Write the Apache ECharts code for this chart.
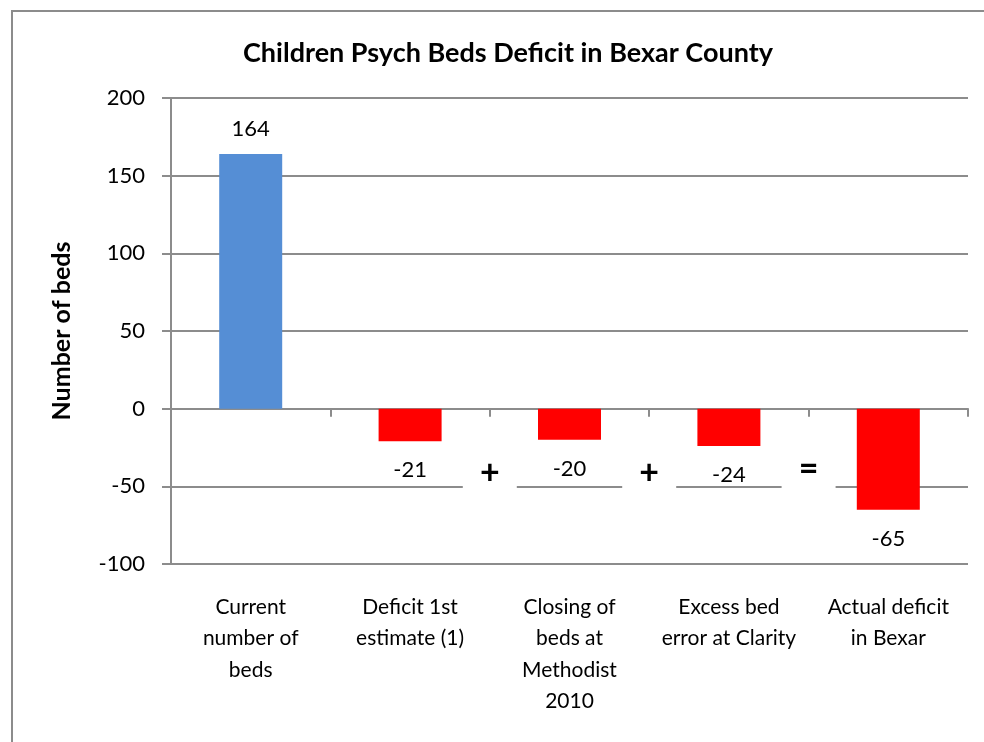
<!DOCTYPE html>
<html>
<head>
<meta charset="utf-8">
<script src="https://cdn.jsdelivr.net/npm/echarts@6/dist/echarts.min.js"></script>
<style>
  html, body { margin: 0; padding: 0; background: #ffffff; }
  #frame { position: absolute; left: 11px; top: 10px; width: 990px; height: 740px; border-left: 2px solid #8c8c8c; border-top: 2px solid #8c8c8c; box-sizing: border-box; }
  #chart { position: absolute; left: 0; top: 0; width: 984px; height: 742px; }
</style>
</head>
<body>
<div id="frame"></div>
<div id="chart"></div>
<script>
const titleText = 'Children Psych Beds Deficit in Bexar County';
const yAxisTitle = 'Number of beds';
const categories = [
  'Current\nnumber of\nbeds',
  'Deficit 1st\nestimate (1)',
  'Closing of\nbeds at\nMethodist\n2010',
  'Excess bed\nerror at Clarity',
  'Actual deficit\nin Bexar'
];
const bedValues = [164, -21, -20, -24, -65];
const barColors = ['#558ED5', '#FF0000', '#FF0000', '#FF0000', '#FF0000'];
const yMin = -100, yMax = 200, yStep = 50;
// operators placed between consecutive categories
const operatorSymbols = ['+', '+', '='];
const operatorAfterCategory = [1, 2, 3];
const operatorValue = -50;

const FONT = 'Lato';
const GRAY = '#8c8c8c';
const chart = echarts.init(document.getElementById('chart'), null, { renderer: 'canvas' });

const option = {
  backgroundColor: 'transparent',
  animation: false,
  title: {
    text: titleText,
    left: 503, textAlign: 'center',
    top: 35,
    textStyle: { fontFamily: FONT, fontWeight: 'bold', fontSize: 27, color: '#000' }
  },
  grid: { left: 171, right: 16, top: 98, bottom: 178, containLabel: false, outerBoundsMode: 'none' },
  xAxis: [{
    // axis line on zero with ticks, no labels
    type: 'category',
    data: categories,
    axisLine: { onZero: true, lineStyle: { color: GRAY, width: 2 } },
    axisTick: { show: true, length: 8, inside: false, lineStyle: { color: GRAY, width: 2 } },
    axisLabel: { show: false }
  }, {
    // labels along the bottom of the plot
    type: 'category',
    data: categories,
    position: 'bottom',
    axisLine: { show: false, onZero: false },
    axisTick: { show: false },
    axisLabel: {
      interval: 0, margin: 27, hideOverlap: false,
      fontFamily: FONT, fontSize: 21, color: '#000', lineHeight: 31.5
    }
  }],
  yAxis: {
    type: 'value',
    min: yMin, max: yMax, interval: yStep,
    name: yAxisTitle,
    nameLocation: 'middle',
    nameGap: 97,
    nameRotate: 90,
    nameTextStyle: { fontFamily: FONT, fontWeight: 'bold', fontSize: 25, color: '#000' },
    axisLine: { show: true, lineStyle: { color: GRAY, width: 2 } },
    axisTick: { show: true, length: 9, lineStyle: { color: GRAY, width: 2 } },
    axisLabel: { margin: 26, fontFamily: FONT, fontSize: 22, color: '#000' },
    splitLine: { show: true, lineStyle: { color: GRAY, width: 2 } }
  },
  series: [{
    type: 'bar',
    xAxisIndex: 0,
    barWidth: 63,
    data: bedValues.map((v, i) => ({
      value: v,
      itemStyle: { color: barColors[i] },
      label: {
        show: true,
        position: v >= 0 ? 'top' : 'bottom',
        distance: v >= 0 ? 14 : 18,
        fontFamily: FONT, fontSize: 22, color: '#000',
        formatter: '{c}'
      }
    }))
  }]
};
chart.setOption(option);

function placeOperators() {
  const elements = operatorSymbols.map((sym, k) => {
    const i = operatorAfterCategory[k];
    const xa = chart.convertToPixel({ xAxisIndex: 0 }, categories[i]);
    const xb = chart.convertToPixel({ xAxisIndex: 0 }, categories[i + 1]);
    const x = (xa + xb) / 2;
    const y = chart.convertToPixel({ yAxisIndex: 0 }, operatorValue);
    return {
      type: 'group',
      x: x, y: y,
      children: [
        { type: 'rect', shape: { x: -27, y: -32, width: 54, height: 38 }, style: { fill: '#ffffff' }, z: 100 },
        { type: 'text', x: 0, y: sym === '=' ? -17 : -13, z: 101,
          style: { text: sym, fontFamily: FONT, fontWeight: 'bold', fontSize: 34, fill: '#000', align: 'center', verticalAlign: 'middle' } }
      ]
    };
  });
  chart.setOption({ graphic: elements });
}
placeOperators();
</script>
</body>
</html>
